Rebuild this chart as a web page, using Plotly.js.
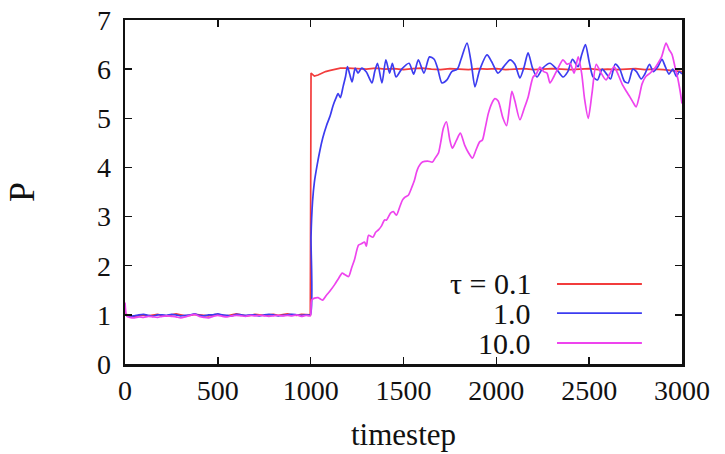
<!DOCTYPE html>
<html>
<head>
<meta charset="utf-8">
<script src="https://cdn.plot.ly/plotly-3.0.1.min.js"></script>
<style>html,body{margin:0;padding:0;background:#fff;}#chart{width:725px;height:454px;}</style>
</head>
<body>
<div id="chart"></div>
<script>
// ---- data ----
const seriesNames = ["τ = 0.1", "1.0", "10.0"];

const preT = [0,25,50,75,100,125,150,175,200,225,250,275,300,325,350,375,400,425,450,475,500,525,550,575,600,625,650,675,700,725,750,775,800,825,850,875,900,925,950,975,998];

const redPreP  = [1.02,0.98,0.97,0.99,1.0,0.98,0.99,1.01,0.99,0.98,1.0,1.02,1.0,0.98,0.99,1.01,1.0,0.99,0.98,1.0,1.01,0.99,0.98,1.0,1.02,1.0,0.98,0.99,1.01,1.0,0.99,1.0,1.01,0.99,1.0,1.02,1.0,0.99,1.01,1.0,1.0];
const bluePreP = [1.0,0.97,0.98,1.0,1.01,0.99,0.97,1.0,1.0,0.99,1.01,1.0,0.98,0.99,1.0,1.02,0.99,0.98,1.0,1.0,1.02,1.0,0.99,0.98,1.01,1.0,0.99,1.0,1.0,0.98,1.0,1.01,1.0,0.98,0.99,1.0,1.01,1.0,0.99,1.0,1.0];
const magPreT  = [0,10,25,50,75,100,125,150,175,200,225,250,275,300,325,350,375,400,425,450,475,500,525,550,575,600,625,650,675,700,725,750,775,800,825,850,875,900,925,950,975,998];
const magPreP  = [1.25,0.97,0.95,0.94,0.96,0.95,0.97,0.96,0.95,0.97,0.98,0.97,0.96,0.94,0.96,0.99,1.01,0.97,0.95,0.94,0.97,0.99,0.97,0.96,0.98,0.99,0.98,0.97,0.99,0.98,0.99,0.98,0.97,0.98,0.99,0.98,0.99,0.98,1.0,0.97,0.99,0.98];

const redPostT = [1002,1020,1040,1060,1080,1100,1130,1160,1200,1250,1300,1350,1400,1450,1500,1550,1600,1650,1700,1750,1800,1850,1900,1950,2000,2050,2100,2150,2200,2250,2300,2350,2400,2450,2500,2550,2600,2650,2700,2750,2800,2850,2900,2950,3000];
const redPostP = [5.92,5.86,5.88,5.92,5.95,5.97,6.0,6.02,6.02,6.01,6.0,6.02,6.0,6.01,5.99,6.01,6.02,6.0,5.99,6.01,6.0,5.99,6.01,6.0,6.01,5.99,6.0,6.01,5.99,6.0,6.01,6.0,5.99,6.0,6.01,5.99,6.0,5.99,6.0,6.01,5.99,6.0,5.99,5.97,5.95];

const bluePostT = [1002,1010,1020,1035,1050,1065,1085,1105,1120,1135,1148,1160,1175,1188,1198,1210,1223,1240,1255,1275,1300,1330,1345,1360,1384,1405,1425,1440,1460,1490,1530,1555,1580,1610,1640,1665,1685,1707,1734,1760,1790,1810,1842,1865,1885,1910,1950,1975,2009,2040,2074,2100,2127,2150,2171,2195,2219,2250,2289,2320,2359,2385,2410,2440,2460,2480,2500,2520,2545,2570,2590,2615,2640,2665,2690,2710,2735,2755,2780,2800,2825,2845,2870,2892,2910,2930,2950,2970,2985,3000];
const bluePostP = [2.6,3.3,3.7,4.05,4.35,4.6,4.85,5.05,5.25,5.4,5.5,5.42,5.65,5.85,6.05,5.9,5.74,6.02,5.92,6.02,5.94,5.72,5.95,6.12,5.72,6.19,5.92,6.12,5.84,6.0,6.12,5.9,6.19,5.92,6.25,6.2,6.0,5.72,5.78,5.95,6.0,6.2,6.53,6.12,5.64,5.98,6.29,6.15,5.92,6.05,6.19,6.1,5.82,6.05,6.33,6.02,5.84,6.02,6.12,6.02,5.84,5.95,6.2,6.05,6.3,6.5,6.15,5.85,5.78,6.0,5.92,5.8,6.1,6.0,5.75,5.72,6.0,5.95,5.8,5.9,6.1,5.95,6.05,6.2,6.05,5.9,6.0,5.85,5.95,5.9];

const magPostT = [1005,1021,1040,1064,1085,1107,1130,1150,1170,1183,1204,1220,1236,1258,1275,1290,1300,1312,1335,1350,1365,1380,1398,1409,1430,1445,1462,1480,1495,1510,1527,1545,1559,1570,1581,1602,1630,1656,1672,1688,1700,1715,1731,1750,1763,1785,1806,1830,1850,1871,1890,1910,1925,1940,1957,1975,1992,2010,2036,2055,2070,2084,2100,2127,2150,2171,2198,2215,2235,2255,2273,2289,2310,2327,2359,2380,2397,2419,2441,2460,2475,2495,2515,2538,2560,2591,2610,2634,2655,2677,2700,2720,2740,2753,2770,2785,2805,2828,2850,2871,2890,2914,2930,2946,2962,2978,2990,3000];
const magPostP = [1.3,1.34,1.35,1.3,1.4,1.5,1.62,1.74,1.85,1.82,1.78,1.95,2.12,2.42,2.45,2.48,2.4,2.62,2.58,2.68,2.73,2.8,2.93,2.93,3.07,3.1,3.03,3.2,3.34,3.4,3.44,3.6,3.74,3.9,4.01,4.11,4.13,4.11,4.2,4.29,4.5,4.8,4.93,4.55,4.39,4.55,4.7,4.45,4.3,4.19,4.35,4.52,4.56,4.8,5.1,5.3,5.4,5.35,5.0,4.85,5.2,5.55,5.35,4.97,5.2,5.43,5.84,5.9,6.04,5.95,5.92,5.72,5.85,5.98,6.19,6.1,6.12,5.92,6.25,5.9,5.4,5.0,5.5,6.1,5.95,5.78,5.9,6.05,5.9,5.7,5.55,5.43,5.3,5.23,5.45,5.7,5.85,5.92,6.0,6.12,6.25,6.53,6.4,6.3,6.05,5.8,5.55,5.3];

const xTicks = [0,500,1000,1500,2000,2500,3000];
const yTicks = [0,1,2,3,4,5,6,7];

// ---- styles ----
const colors = ["#f23c3c", "#3c3cf0", "#ee44ee"];
const shapesOfLine = ["linear", "spline", "spline"];
const FONT = "Liberation Serif, Times New Roman, serif";

const traces = [
  {x: preT.concat(redPostT),  y: redPreP.concat(redPostP)},
  {x: preT.concat(bluePostT), y: bluePreP.concat(bluePostP)},
  {x: magPreT.concat(magPostT), y: magPreP.concat(magPostP)}
].map((d, i) => ({
  x: d.x, y: d.y, type: "scatter", mode: "lines", name: seriesNames[i],
  line: {color: colors[i], width: 1.7, shape: shapesOfLine[i], smoothing: 0.7},
  showlegend: false, hoverinfo: "skip"
}));

// legend drawn inside the plot: text right-aligned, sample line to its right
const legRowsY = [0.2326, 0.148, 0.061];
const annotations = seriesNames.map((n, i) => ({
  xref: "paper", yref: "paper", x: 0.7325, y: legRowsY[i],
  xanchor: "right", yanchor: "middle", showarrow: false, text: n,
  font: {family: FONT, size: 30, color: "#111"}
}));
const shapes = seriesNames.map((n, i) => ({
  type: "line", xref: "paper", yref: "paper",
  x0: 0.7756, x1: 0.928, y0: legRowsY[i], y1: legRowsY[i],
  line: {color: colors[i], width: 1.8}
}));

const axisCommon = {
  showgrid: false, zeroline: false, showline: true, linecolor: "#111", linewidth: 2.5,
  mirror: "ticks", ticks: "inside", ticklen: 7, tickwidth: 1.5, tickcolor: "#111",
  tickfont: {family: FONT, size: 28, color: "#111"}
};

const layout = {
  width: 725, height: 454,
  margin: {l: 125, r: 43, t: 20, b: 90},
  paper_bgcolor: "#fff", plot_bgcolor: "#fff",
  xaxis: Object.assign({}, axisCommon, {
    range: [0, 3000], tickvals: xTicks, ticktext: xTicks.map(String),
    title: {text: "timestep", font: {family: FONT, size: 31, color: "#111"}, standoff: 18}
  }),
  yaxis: Object.assign({}, axisCommon, {
    range: [0, 7], tickvals: yTicks, ticktext: yTicks.map(String),
    ticklabelstandoff: 6,
    title: {text: "P", font: {family: FONT, size: 36, color: "#111"}, standoff: 52}
  }),
  annotations: annotations,
  shapes: shapes
};

Plotly.newPlot("chart", traces, layout, {staticPlot: true, displayModeBar: false});
</script>
</body>
</html>
